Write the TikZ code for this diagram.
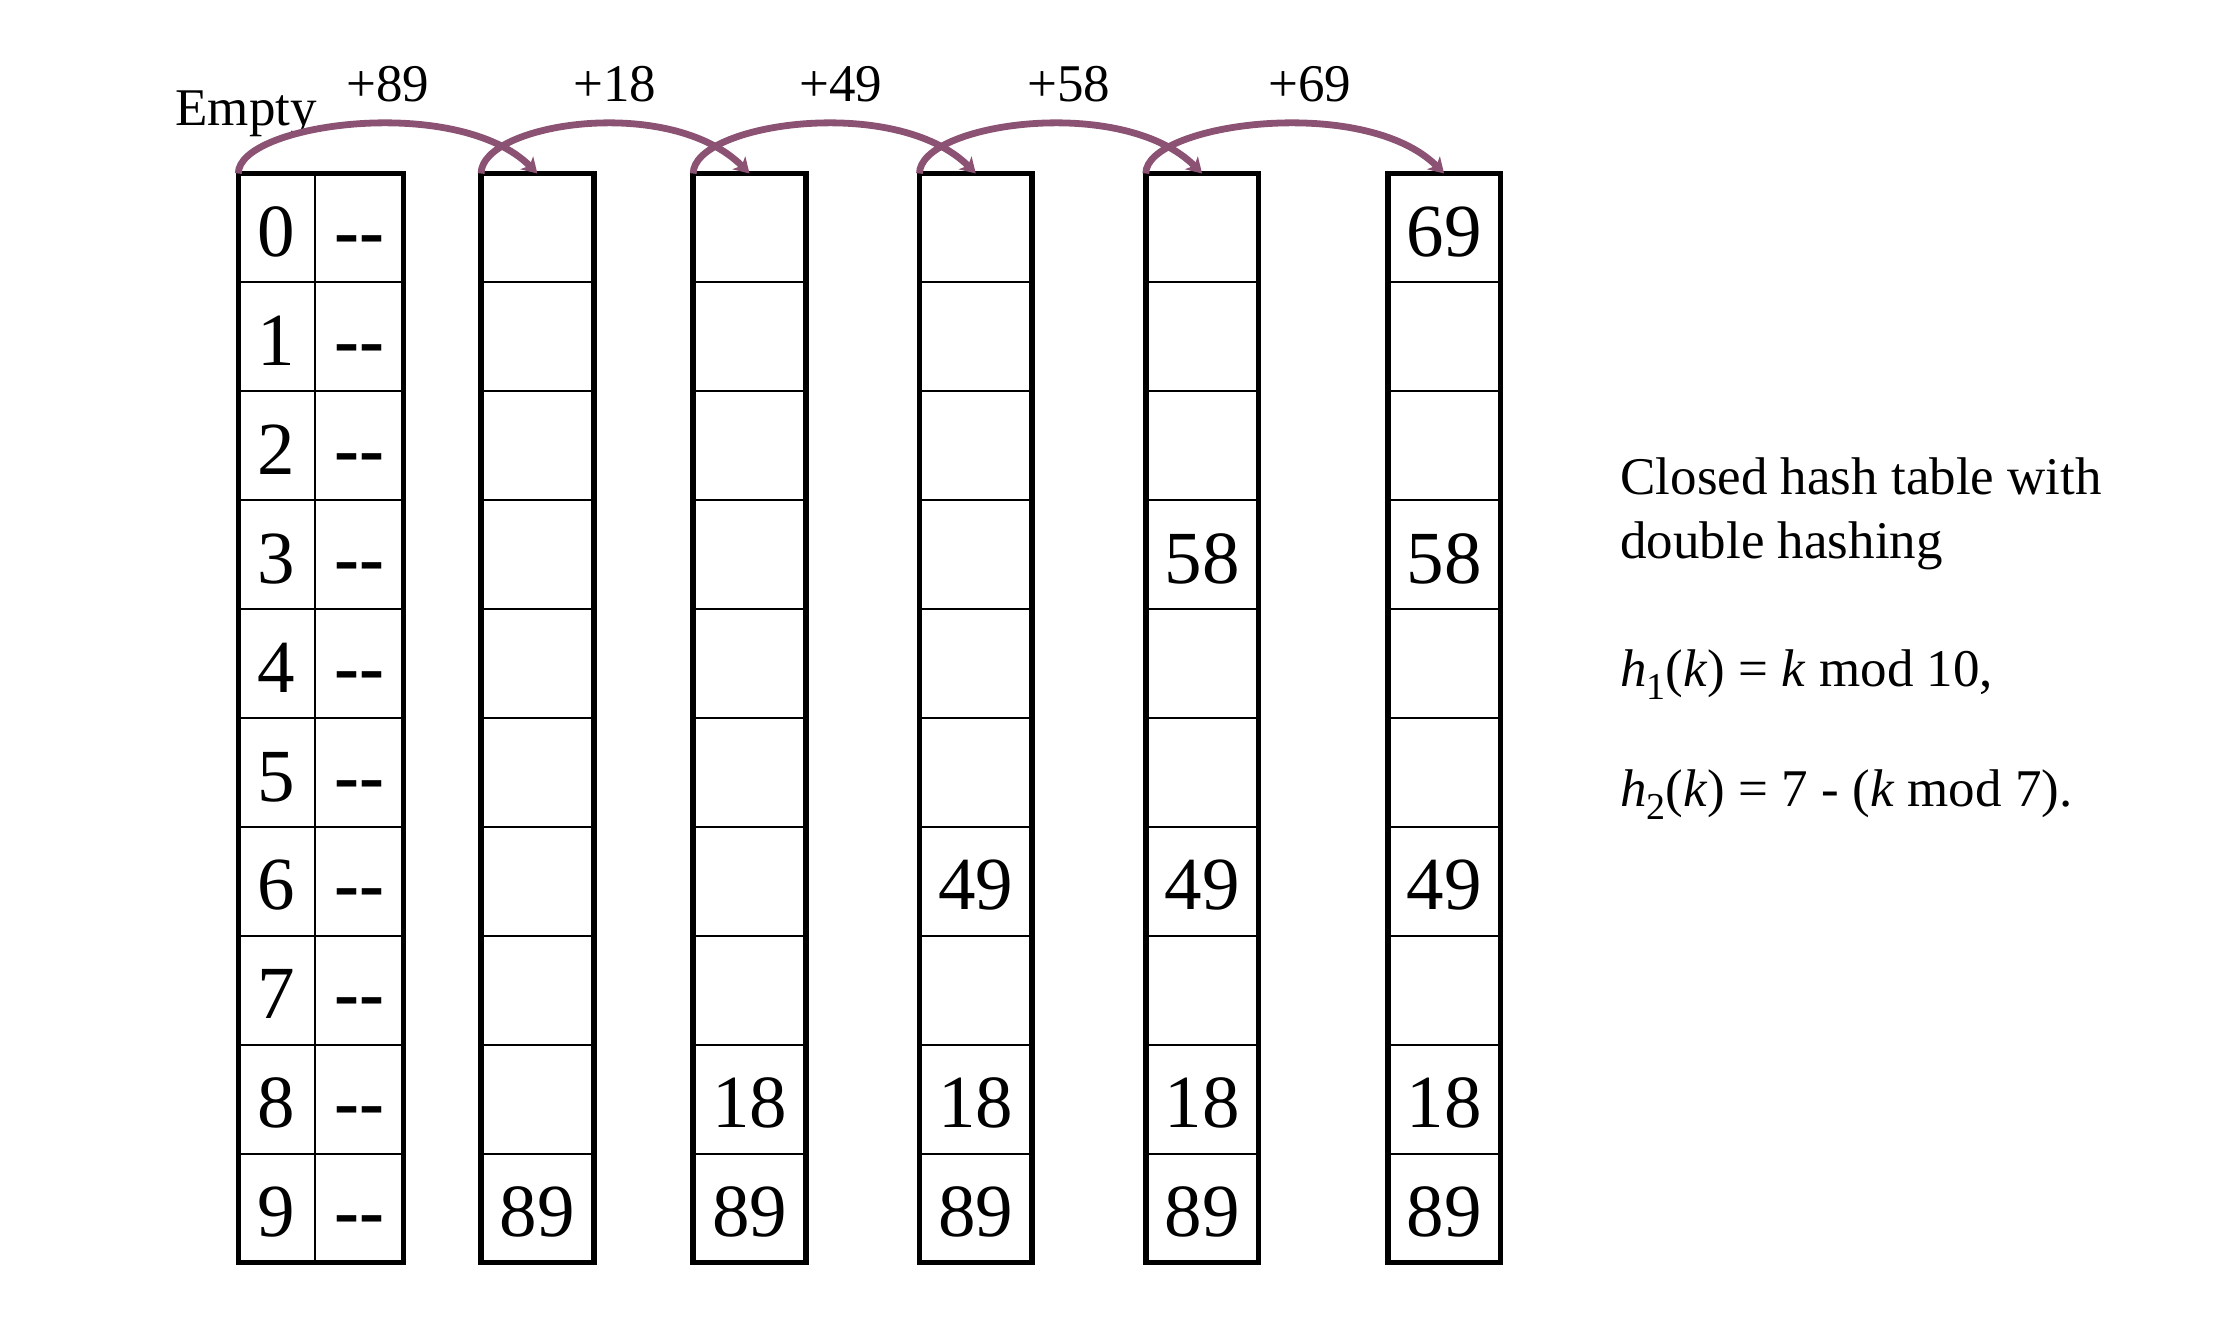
\documentclass[tikz,border=0pt]{standalone}
\usepackage{fontspec}
\setmainfont{Liberation Serif}
\usetikzlibrary{arrows.meta,calc}
\definecolor{arrowc}{RGB}{140,82,115}
\begin{document}
\begin{tikzpicture}[x=0.5pt,y=-0.5pt,
  tbl/.style={draw=black, line width=2.8pt, inner sep=0pt, outer sep=0pt, minimum height=544.5pt},
  cellnum/.style={font=\fontsize{37.5}{40}\selectfont, anchor=base, inner sep=0pt},
  lbl/.style={font=\fontsize{26.5}{30}\selectfont, anchor=base, inner sep=0pt},
  info/.style={font=\fontsize{26.5}{30}\selectfont, anchor=base west, inner sep=0pt},
  probe/.style={draw=arrowc, line width=3.4pt, -{Stealth[length=7.5pt,width=9pt,inset=2pt]}},
  thinline/.style={line width=1pt}]
\useasboundingbox (0,0) rectangle (2232,1324);

% tables
\node[tbl, minimum width=82.6pt] (t1) at (320.9,718) {};
\node[tbl, minimum width=56.3pt] (t2) at (537.4,718) {};
\node[tbl, minimum width=56.3pt] (t3) at (749.5,718) {};
\node[tbl, minimum width=56.3pt] (t4) at (975.8,718) {};
\node[tbl, minimum width=56.3pt] (t5) at (1202.1,718) {};
\node[tbl, minimum width=56.3pt] (t6) at (1444.1,718) {};

% row separators
\foreach \t in {t1,t2,t3,t4,t5,t6}{
  \foreach \i in {1,...,9}{
    \draw[thinline] ($(\t.north west)+(0,\i*108.9)$) -- ($(\t.north east)+(0,\i*108.9)$);
  }
}
% divider of first table
\draw[thinline] ($(t1.north west)+(76.4,0)$) -- ($(t1.south west)+(76.4,0)$);

% first table contents
\foreach \r in {0,...,9}{
  \node[cellnum] (idx\r) at ($(t1.north west)+(38.2,83+\r*108.9)$) {\r};
  \node[cellnum] (dash\r) at ($(t1.north west)+(120.7,83+\r*108.9)$) {\bfseries -{}-};
}

% other tables contents
\foreach \tb/\r/\v in {2/9/89, 3/8/18, 3/9/89, 4/6/49, 4/8/18, 4/9/89,
  5/3/58, 5/6/49, 5/8/18, 5/9/89, 6/0/69, 6/3/58, 6/6/49, 6/8/18, 6/9/89}{
  \node[cellnum] (v\tb-\r) at ($(t\tb.north)+(0,83+\r*108.9)$) {\v};
}

% labels
\node[lbl, anchor=base west] (empty) at (175,125) {Empty};
\node[lbl] (p89) at (388,101) {+89};
\node[lbl] (p18) at (615,101) {+18};
\node[lbl] (p49) at (841,101) {+49};
\node[lbl] (p58) at (1069,101) {+58};
\node[lbl] (p69) at (1310,101) {+69};

% probe arrows
\draw[probe] (t1.north west) .. controls +(0,-50) and +(-80,-80) .. (t2.north);
\draw[probe] (t2.north west) .. controls +(0,-50) and +(-80,-80) .. (t3.north);
\draw[probe] (t3.north west) .. controls +(0,-50) and +(-80,-80) .. (t4.north);
\draw[probe] (t4.north west) .. controls +(0,-50) and +(-80,-80) .. (t5.north);
\draw[probe] (t5.north west) .. controls +(0,-50) and +(-80,-80) .. (t6.north);

% description
\node[info] (d1) at (1620,494) {Closed hash table with};
\node[info] (d2) at (1620,558) {double hashing};
\node[info] (d3) at (1620,686) {\textit{h}\raisebox{-0.25em}{\fontsize{19}{20}\selectfont 1}(\textit{k}) = \textit{k} mod 10,};
\node[info] (d4) at (1620,806) {\textit{h}\raisebox{-0.25em}{\fontsize{19}{20}\selectfont 2}(\textit{k}) = 7 - (\textit{k} mod 7).};
\end{tikzpicture}
\end{document}
